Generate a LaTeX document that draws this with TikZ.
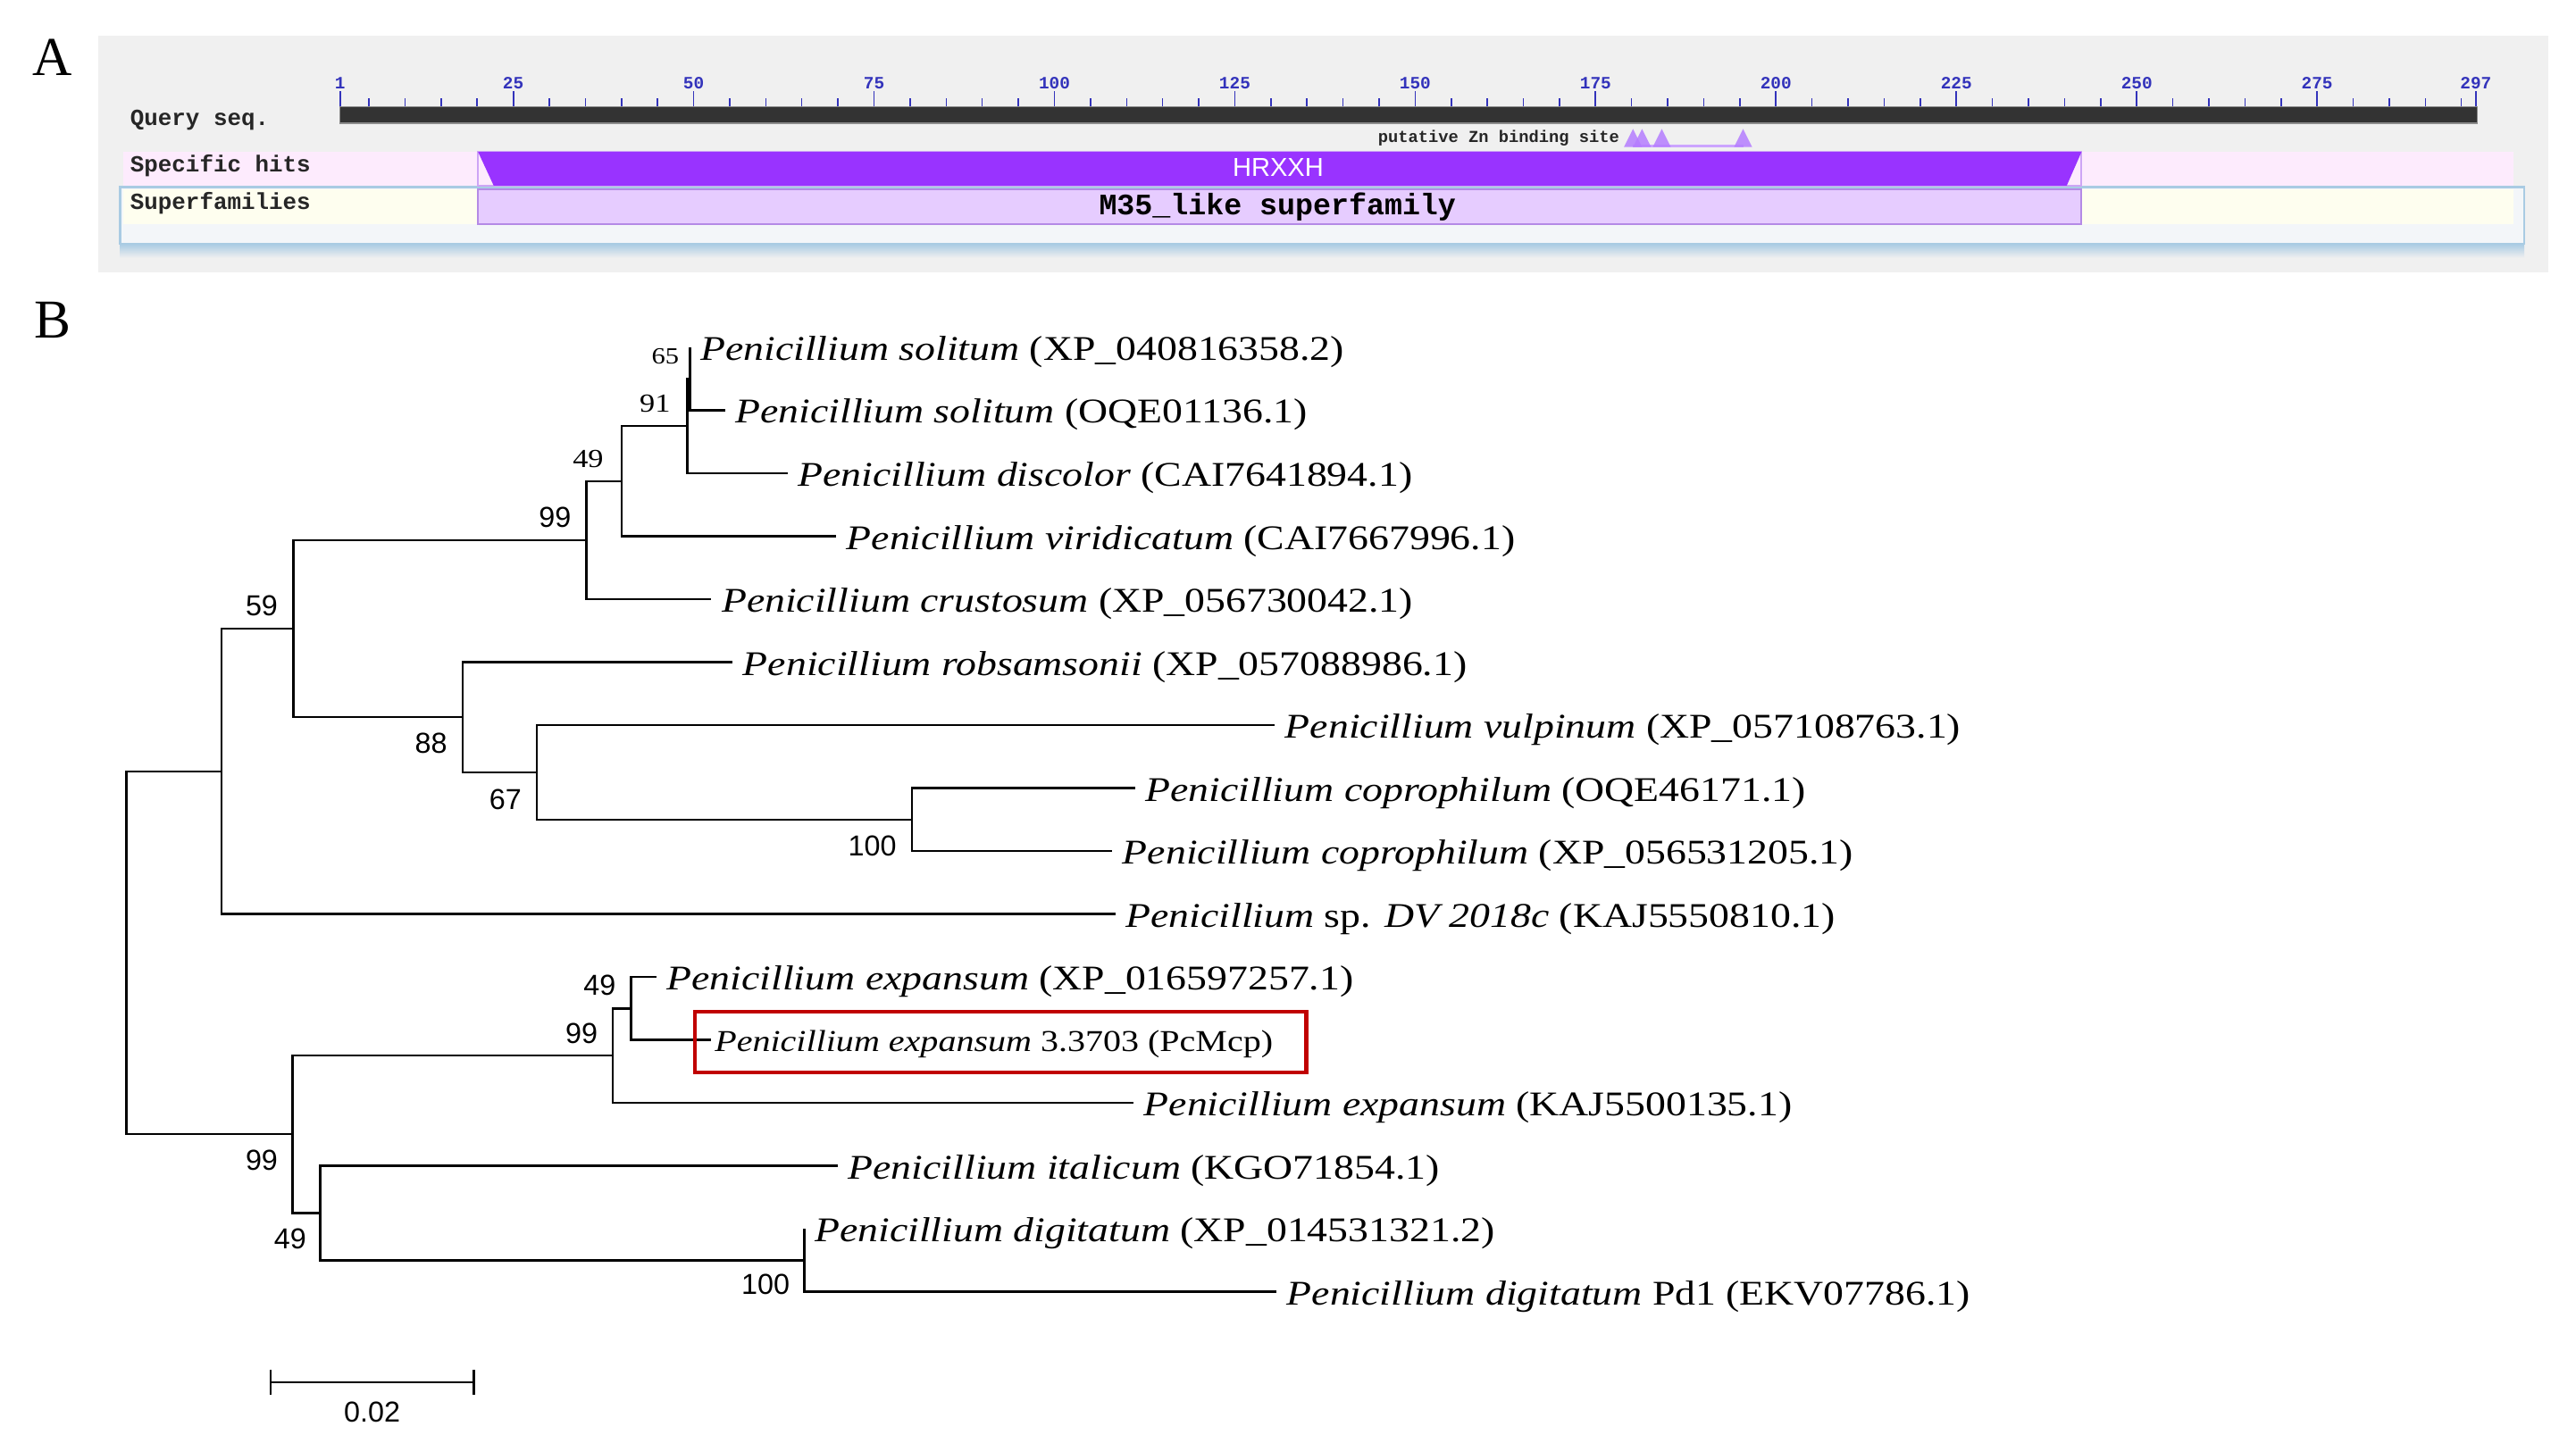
\documentclass[tikz,border=0pt]{standalone}
\usepackage{fontspec}
\setmainfont{Liberation Serif}
\setsansfont{Liberation Sans}
\setmonofont{Liberation Mono}
\newfontfamily\taxonfont{Liberation Serif}[FakeStretch=1.18]
\usepackage{xcolor}
\usetikzlibrary{positioning}

\definecolor{panelgray}{HTML}{F0F0F0}
\definecolor{boxfill}{HTML}{F3F6F9}
\definecolor{boxblue}{HTML}{A9CBE3}
\definecolor{hitpink}{HTML}{FDEBFD}
\definecolor{famyellow}{HTML}{FEFEEF}
\definecolor{hitpurple}{HTML}{9933FF}
\definecolor{hitedge}{HTML}{CDA5F5}
\definecolor{famlilac}{HTML}{E6CCFF}
\definecolor{famedge}{HTML}{B48AE6}
\definecolor{tickblue}{HTML}{3333BB}
\definecolor{siteviolet}{HTML}{B57DFF}
\definecolor{markred}{HTML}{C00000}

\begin{document}
\begin{tikzpicture}[
        x=0.02cm, y=-0.02cm,
        panellbl/.style={inner sep=0pt, font=\fontsize{19}{19}\selectfont},
        rowlbl/.style={anchor=west, inner sep=0pt, text=black!85,
                       font=\ttfamily\bfseries\fontsize{8}{8}\selectfont},
        ticknum/.style={anchor=south, inner sep=0pt, text=tickblue,
                        font=\ttfamily\bfseries\fontsize{6}{6}\selectfont},
        branch/.style={line width=0.75pt},
        taxon/.style={anchor=west, inner xsep=3.4pt, inner ysep=0pt,
                      text height=9pt, text depth=0pt,
                      font=\taxonfont\fontsize{12}{12}\selectfont},
        boot/.style={inner sep=0pt, font=\sffamily\fontsize{10}{10}\selectfont},
        bootrm/.style={inner sep=0pt, font=\taxonfont\fontsize{9}{9}\selectfont},
    ]
    \fill[white] (0,0) rectangle (1568,878.6);
    \useasboundingbox (0,0) rectangle (1568,878.6);

    % panel A: domain hits
    \node[panellbl] (lblA) at (32,35) {A};
    \fill[panelgray] (60,22) rectangle (1551,166);
    \shade[top color=boxblue, bottom color=panelgray] (73,148.5) rectangle (1536.5,157);
    \filldraw[fill=boxfill, draw=boxblue, line width=0.8pt] (73,114) rectangle (1536.5,148.5);
    \fill[hitpink] (75,92.5) rectangle (1530,113);
    \fill[famyellow] (75,115.5) rectangle (1530,136.5);

    \foreach \n in {5,10,...,295}
        \draw[tickblue, line width=0.45pt] ({207+(\n-1)*4.392},65) -- ({207+(\n-1)*4.392},60);
    \foreach \n in {1,25,50,75,100,125,150,175,200,225,250,275,297} {
        \draw[tickblue, line width=0.55pt] ({207+(\n-1)*4.392},65) -- ({207+(\n-1)*4.392},55.5);
        \node[ticknum] (num\n) at ({207+(\n-1)*4.392},54.5) {\n};
    }
    \filldraw[fill=black!80, draw=black!45, line width=0.4pt] (207,65) rectangle (1508,75);

    \node[rowlbl] (qlbl) at (79,73) {Query seq.};
    \node[rowlbl] (hlbl) at (79,101) {Specific hits};
    \node[rowlbl] (flbl) at (79,124) {Superfamilies};

    \node[rowlbl, anchor=east, font=\ttfamily\bfseries\fontsize{5.8}{5.8}\selectfont] (znlbl) at (986,84.3) {putative Zn binding site};
    \draw[siteviolet!70, line width=0.8pt] (994,88.8) -- (1061,88.8);
    \foreach \s in {994,999.5,1011.5,1061}
        \fill[siteviolet, opacity=0.85] ({\s-5.5},89.5) -- (\s,78.5) -- ({\s+5.5},89.5) -- cycle;

    \draw[hitedge, line width=0.6pt] (291,92.5) rectangle (1267,113);
    \fill[hitpurple] (291,92.5) -- (1267,92.5) -- (1258,113) -- (300.5,113) -- cycle;
    \filldraw[fill=famlilac, draw=famedge, line width=0.6pt] (291,115.5) rectangle (1267,136.5);
    \node[inner sep=0pt, text=white, font=\sffamily\fontsize{9}{9}\selectfont] (hrxxh) at (778,102) {HRXXH};
    \node[inner sep=0pt, font=\ttfamily\bfseries\fontsize{10.3}{10.3}\selectfont] (m35) at (777.6,125.8) {M35\_like superfamily};

    % panel B: tree
    \node[panellbl] (lblB) at (32,195) {B};

    \node[taxon] (t1)  at (420.1,211.5) {\textit{Penicillium solitum} (XP\_040816358.2)};
    \node[taxon] (t2)  at (441.4,249.8) {\textit{Penicillium solitum} (OQE01136.1)};
    \node[taxon] (t3)  at (479.5,288.2) {\textit{Penicillium discolor} (CAI7641894.1)};
    \node[taxon] (t4)  at (509.0,326.5) {\textit{Penicillium viridicatum} (CAI7667996.1)};
    \node[taxon] (t5)  at (433.0,364.8) {\textit{Penicillium crustosum} (XP\_056730042.1)};
    \node[taxon] (t6)  at (446.0,403.2) {\textit{Penicillium robsamsonii} (XP\_057088986.1)};
    \node[taxon] (t7)  at (776.0,441.5) {\textit{Penicillium vulpinum} (XP\_057108763.1)};
    \node[taxon] (t8)  at (691.0,479.8) {\textit{Penicillium coprophilum} (OQE46171.1)};
    \node[taxon] (t9)  at (677.0,518.1) {\textit{Penicillium coprophilum} (XP\_056531205.1)};
    \node[taxon] (t10) at (679.0,556.5) {\textit{Penicillium} sp. \textit{DV 2018c} (KAJ5550810.1)};
    \node[taxon] (t11) at (399.6,594.8) {\textit{Penicillium expansum} (XP\_016597257.1)};
    \node[taxon, inner xsep=1pt, text height=8pt,
          font=\taxonfont\fontsize{10.5}{10.5}\selectfont] (t12) at (433.0,633.1) {\textit{Penicillium expansum} 3.3703 (PcMcp)};
    \node[taxon] (t13) at (690.0,671.5) {\textit{Penicillium expansum} (KAJ5500135.1)};
    \node[taxon] (t14) at (510.0,709.8) {\textit{Penicillium italicum} (KGO71854.1)};
    \node[taxon] (t15) at (489.7,748.1) {\textit{Penicillium digitatum} (XP\_014531321.2)};
    \node[taxon] (t16) at (777.0,786.5) {\textit{Penicillium digitatum} Pd1 (EKV07786.1)};

    \coordinate (n65)   at (420.1,230.7);
    \coordinate (n91)   at (418.3,259.4);
    \coordinate (n49a)  at (378.4,293.0);
    \coordinate (n99a)  at (357.0,328.9);
    \coordinate (n100a) at (555.2,499.0);
    \coordinate (n67)   at (326.6,470.2);
    \coordinate (n88)   at (281.5,436.7);
    \coordinate (n59)   at (178.5,382.8);
    \coordinate (nup)   at (134.8,469.7);
    \coordinate (n49b)  at (384.2,614.0);
    \coordinate (n99b)  at (373.0,642.7);
    \coordinate (n100b) at (489.7,767.3);
    \coordinate (n49c)  at (195.0,738.6);
    \coordinate (n99c)  at (178.0,690.6);
    \coordinate (root)  at (77.0,580.2);

    \draw[branch] (root) |- (nup);
    \draw[branch] (root) |- (n99c);
    \draw[branch] (nup) |- (n59);
    \draw[branch] (nup) |- (t10.west);
    \draw[branch] (n59) |- (n99a);
    \draw[branch] (n59) |- (n88);
    \draw[branch] (n99a) |- (n49a);
    \draw[branch] (n99a) |- (t5.west);
    \draw[branch] (n49a) |- (n91);
    \draw[branch] (n49a) |- (t4.west);
    \draw[branch] (n91) |- (n65);
    \draw[branch] (n91) |- (t3.west);
    \draw[branch] (n65) |- (t1.west);
    \draw[branch] (n65) |- (t2.west);
    \draw[branch] (n88) |- (t6.west);
    \draw[branch] (n88) |- (n67);
    \draw[branch] (n67) |- (t7.west);
    \draw[branch] (n67) |- (n100a);
    \draw[branch] (n100a) |- (t8.west);
    \draw[branch] (n100a) |- (t9.west);
    \draw[branch] (n99c) |- (n99b);
    \draw[branch] (n99c) |- (n49c);
    \draw[branch] (n99b) |- (n49b);
    \draw[branch] (n99b) |- (t13.west);
    \draw[branch] (n49b) |- (t11.west);
    \draw[branch] (n49b) |- (t12.west);
    \draw[branch] (n49c) |- (t14.west);
    \draw[branch] (n49c) |- (n100b);
    \draw[branch] (n100b) |- (t15.west);
    \draw[branch] (n100b) |- (t16.west);

    % bootstrap values
    \node[bootrm, font=\taxonfont\fontsize{8}{8}\selectfont] (b65) at (405,217) {65};
    \node[bootrm] (b91)  at (398.7,246) {91};
    \node[bootrm] (b49a) at (358,279.6) {49};
    \node[boot] (b99a)  at (337.8,315) {99};
    \node[boot] (b59)   at (159.3,369) {59};
    \node[boot] (b88)   at (262.4,452.5) {88};
    \node[boot] (b67)   at (307.6,487) {67};
    \node[boot] (b100a) at (531,515) {100};
    \node[boot] (b49b)  at (365,600) {49};
    \node[boot] (b99b)  at (354,629) {99};
    \node[boot] (b99c)  at (159.3,706.5) {99};
    \node[boot] (b49c)  at (176.6,754.5) {49};
    \node[boot] (b100b) at (466,782) {100};

    \draw[markred, line width=1.4pt] (423,616) rectangle (795,653);

    % scale bar
    \coordinate (sbl) at (164.6,841.5);
    \coordinate (sbr) at (288.4,841.5);
    \draw[branch] (sbl) -- (sbr);
    \draw[branch] (sbl) ++(0,-7.5) -- ++(0,15);
    \draw[branch] (sbr) ++(0,-7.5) -- ++(0,15);
    \node[boot] (sblbl) at (226.5,860) {0.02};
\end{tikzpicture}
\end{document}
